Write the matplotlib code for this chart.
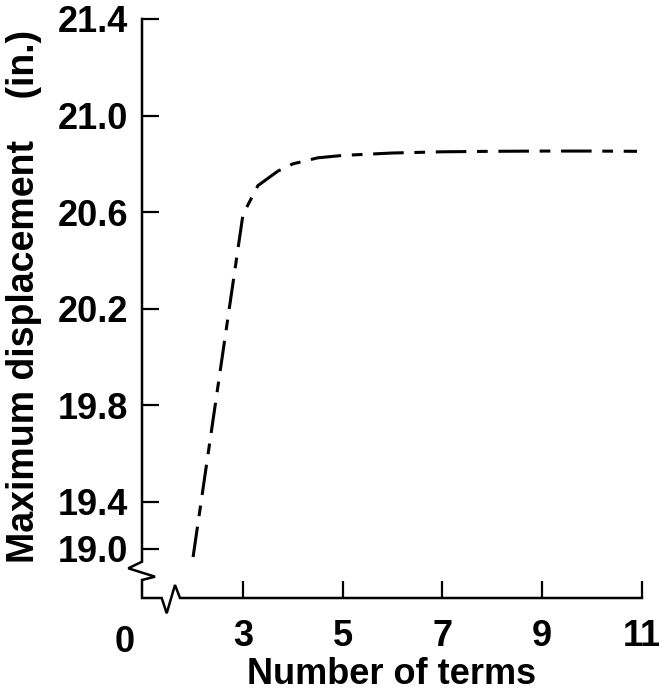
import numpy as np
import matplotlib
matplotlib.use("Agg")
import matplotlib.pyplot as plt

# values
terms = [2, 3, 3.3, 3.7, 4, 4.5, 5, 6, 7, 8, 9, 10, 10.9]
displacement = [18.93, 20.59, 20.71, 20.77, 20.80, 20.825, 20.835, 20.845,
                20.85, 20.852, 20.853, 20.853, 20.852]

x_ticks = [3, 5, 7, 9, 11]
y_ticks = [19.0, 19.4, 19.8, 20.2, 20.6, 21.0, 21.4]

# broken y axis: the part under 19.4 is squeezed
y_break = 19.4
squeeze = 0.4855


def fwd(y):
    y = np.asarray(y, dtype=float)
    return np.where(y >= y_break, y, y_break - (y_break - y) * squeeze)


def inv(y):
    y = np.asarray(y, dtype=float)
    return np.where(y >= y_break, y, y_break - (y_break - y) / squeeze)


plt.rcParams['font.family'] = ['Liberation Sans', 'DejaVu Sans']
plt.rcParams['font.weight'] = 'bold'
fs = 26

fig = plt.figure(figsize=(6.72, 6.94), dpi=100)
ax = fig.add_axes([142 / 672, 1 - 598 / 694, 500 / 672, 579 / 694])

ax.set_yscale('function', functions=(fwd, inv))
ax.set_xlim(0.976, 11)
ax.set_ylim(18.58, 21.4)

ax.plot(terms, displacement, color='black', lw=2.2, dashes=(10, 3.5, 3.5, 3.5),
        solid_capstyle='butt')

ax.set_xticks(x_ticks)
ax.set_xticklabels([str(t) for t in x_ticks])
ax.set_yticks(y_ticks)
ax.set_yticklabels([f'{t:.1f}' for t in y_ticks])
ax.minorticks_off()
ax.tick_params(direction='in', length=12, width=1.6, labelsize=fs, color='black')
ax.tick_params(axis='x', pad=15)
ax.tick_params(axis='y', pad=10)

for s in ax.spines.values():
    s.set_visible(False)

# axis lines with break marks
fx = [0, 0, -0.0274, 0.026, 0, 0, 0.0394, 0.0494, 0.066, 0.076, 1]
fy = [1, 0.0627, 0.0513, 0.0368, 0.0311, 0, 0, -0.0264, 0.0225, 0, 0]
ax.plot(fx, fy, color='black', lw=1.8, transform=ax.transAxes, clip_on=False,
        solid_joinstyle='miter')

# "0" at the origin of the broken x axis
ax.text(-0.034, -0.047, '0', transform=ax.transAxes, ha='center', va='top',
        fontsize=fs, fontweight='bold')

ax.set_xlabel('Number of terms', fontsize=fs, fontweight='bold', labelpad=2)
ax.set_ylabel('Maximum displacement    (in.)', fontsize=27, fontweight='bold')
ax.yaxis.set_label_coords(-0.200, 0.5216)

fig.savefig('out.png', dpi=100)
